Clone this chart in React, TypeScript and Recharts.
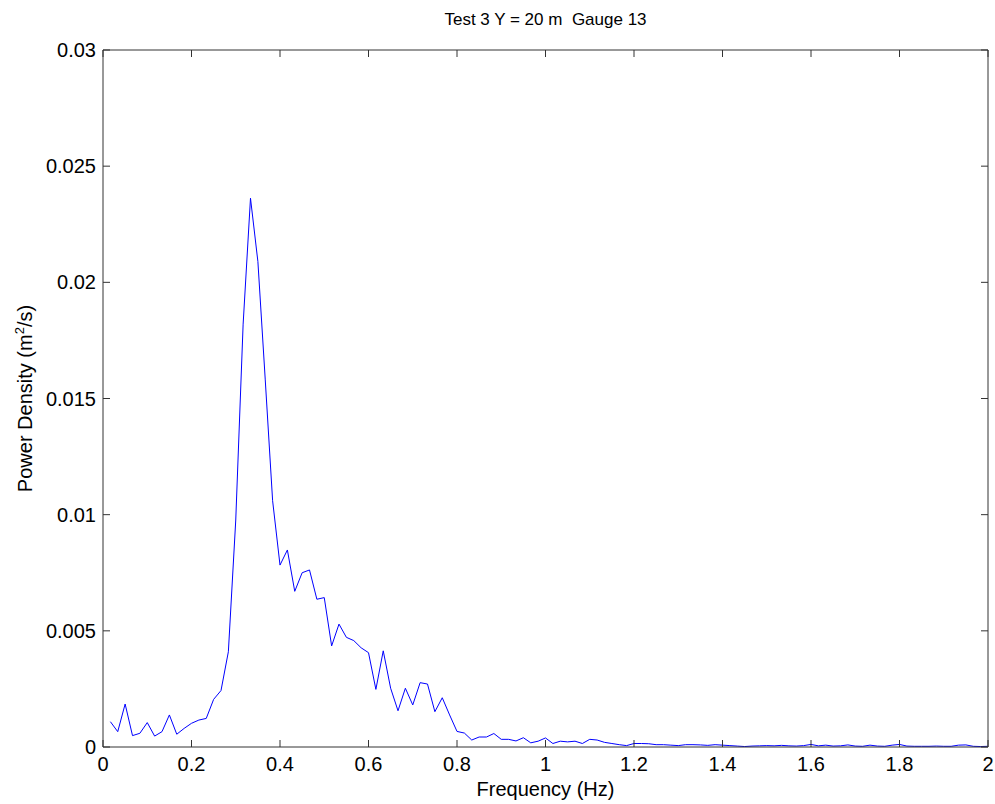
import React from "react"
import { LineChart, Line, XAxis, YAxis, Label } from "recharts"

// frequency bins (Hz)
const frequency = [
  0.0167, 0.0333, 0.05, 0.0667, 0.0833, 0.1, 0.1167, 0.1333, 0.15, 0.1667,
  0.1833, 0.2, 0.2167, 0.2333, 0.25, 0.2667, 0.2833, 0.3, 0.3167, 0.3333,
  0.35, 0.3667, 0.3833, 0.4, 0.4167, 0.4333, 0.45, 0.4667, 0.4833, 0.5,
  0.5167, 0.5333, 0.55, 0.5667, 0.5833, 0.6, 0.6167, 0.6333, 0.65, 0.6667,
  0.6833, 0.7, 0.7167, 0.7333, 0.75, 0.7667, 0.7833, 0.8, 0.8167, 0.8333,
  0.85, 0.8667, 0.8833, 0.9, 0.9167, 0.9333, 0.95, 0.9667, 0.9833, 1.0,
  1.0167, 1.0333, 1.05, 1.0667, 1.0833, 1.1, 1.1167, 1.1333, 1.15, 1.1667,
  1.1833, 1.2, 1.2167, 1.2333, 1.25, 1.2667, 1.2833, 1.3, 1.3167, 1.3333,
  1.35, 1.3667, 1.3833, 1.4, 1.4167, 1.4333, 1.45, 1.4667, 1.4833, 1.5,
  1.5167, 1.5333, 1.55, 1.5667, 1.5833, 1.6, 1.6167, 1.6333, 1.65, 1.6667,
  1.6833, 1.7, 1.7167, 1.7333, 1.75, 1.7667, 1.7833, 1.8, 1.8167, 1.8333,
  1.85, 1.8667, 1.8833, 1.9, 1.9167, 1.9333, 1.95, 1.9667, 1.9833, 2.0,
]

// power density (m^2/s)
const density = [
  0.00109, 0.00066, 0.00185, 0.00049, 0.00059, 0.00105, 0.00047, 0.00066, 0.00138, 0.00055,
  0.0008, 0.00102, 0.00116, 0.00123, 0.00205, 0.00243, 0.0041, 0.00977, 0.0182, 0.02362,
  0.0209, 0.0158, 0.0106, 0.00783, 0.00848, 0.0067, 0.0075, 0.00762, 0.00636, 0.00643,
  0.00435, 0.00529, 0.00472, 0.00458, 0.00427, 0.00406, 0.00248, 0.00414, 0.00253, 0.00156,
  0.00253, 0.00181, 0.00277, 0.00271, 0.00152, 0.00212, 0.00138, 0.00067, 0.0006, 0.0003,
  0.00043, 0.00043, 0.00058, 0.00033, 0.00033, 0.00026, 0.0004, 0.00018, 0.00025, 0.00039,
  0.00015, 0.00025, 0.00022, 0.00025, 0.00015, 0.00033, 0.0003, 0.0002, 0.00015, 0.0001,
  0.00006, 0.00015, 0.00015, 0.00014, 0.0001, 0.0001, 0.00008, 0.00006, 0.0001, 0.0001,
  0.00009, 0.00007, 0.0001, 0.00008, 0.00006, 0.00004, 0.00002, 0.00004, 0.00005, 0.00006,
  0.00005, 0.00007, 0.00005, 0.00004, 0.00006, 0.00011, 0.00005, 0.00008, 0.00004, 0.00005,
  0.00009, 0.00004, 0.00003, 0.00008, 0.00004, 0.00003, 0.00008, 0.00011, 0.00004, 0.00003,
  0.00003, 0.00003, 0.00004, 0.00003, 0.00003, 0.00008, 0.00009, 0.00003, 0.00002, 0.00003,
]

const xTicks = [0, 0.2, 0.4, 0.6, 0.8, 1, 1.2, 1.4, 1.6, 1.8, 2]
const yTicks = [0, 0.005, 0.01, 0.015, 0.02, 0.025, 0.03]

const data = frequency.map((f, i) => ({ f, p: density[i] }))

const FONT = "'Liberation Sans', Arial, sans-serif"
const axisColor = "#333"
const FS = 20
const TICK = 7

// MATLAB style: ticks point into the plot box
const BottomTick = ({ x, y, payload }: any) => (
  <g>
    <line x1={x} y1={y} x2={x} y2={y - TICK} stroke={axisColor} />
    <text x={x} y={y + 24} textAnchor="middle" fontSize={FS} fontFamily={FONT} fill="#000">
      {payload.value}
    </text>
  </g>
)
const LeftTick = ({ x, y, payload }: any) => (
  <g>
    <line x1={x} y1={y} x2={x + TICK} y2={y} stroke={axisColor} />
    <text x={x - 7} y={y + 7} textAnchor="end" fontSize={FS} fontFamily={FONT} fill="#000">
      {payload.value}
    </text>
  </g>
)
const TopTick = ({ x, y }: any) => (
  <line x1={x} y1={y} x2={x} y2={y + TICK} stroke={axisColor} />
)
const RightTick = ({ x, y }: any) => (
  <line x1={x} y1={y} x2={x - TICK} y2={y} stroke={axisColor} />
)

export default function App() {
  return (
    <div style={{ position: "absolute", left: 0, top: 0, width: 995, height: 804, background: "#fff" }}>
      <LineChart
        width={995}
        height={804}
        data={data}
        margin={{ top: 49, right: 6, bottom: 27, left: 43 }}
      >
        <XAxis
          dataKey="f"
          type="number"
          domain={[0, 2]}
          ticks={xTicks}
          allowDataOverflow
          height={30}
          stroke={axisColor}
          tickLine={false}
          tickSize={0}
          tickMargin={0}
          tick={<BottomTick />}
        >
          <Label
            content={({ viewBox }: any) => (
              <text
                x={viewBox.x + viewBox.width / 2}
                y={viewBox.y + 49}
                textAnchor="middle"
                fontSize={FS}
                fontFamily={FONT}
              >
                Frequency (Hz)
              </text>
            )}
          />
        </XAxis>
        <XAxis
          xAxisId="top"
          dataKey="f"
          orientation="top"
          type="number"
          domain={[0, 2]}
          ticks={xTicks}
          allowDataOverflow
          height={1}
          stroke={axisColor}
          tickLine={false}
          tickSize={0}
          tickMargin={0}
          tick={<TopTick />}
        >
          <Label
            content={({ viewBox }: any) => (
              <text
                x={viewBox.x + viewBox.width / 2}
                y={25}
                textAnchor="middle"
                fontSize={17}
                fontFamily={FONT}
              >
                Test 3 Y = 20 m{"\u00a0\u00a0"}Gauge 13
              </text>
            )}
          />
        </XAxis>
        <YAxis
          type="number"
          domain={[0, 0.03]}
          ticks={yTicks}
          allowDataOverflow
          width={60}
          stroke={axisColor}
          tickLine={false}
          tickSize={0}
          tickMargin={0}
          tick={<LeftTick />}
        >
          <Label
            content={({ viewBox }: any) => {
              const cx = 32
              const cy = viewBox.y + viewBox.height / 2
              return (
                <text
                  x={cx}
                  y={cy}
                  transform={`rotate(-90, ${cx}, ${cy})`}
                  textAnchor="middle"
                  fontSize={FS}
                  fontFamily={FONT}
                >
                  Power Density (m
                  <tspan dy={-8} fontSize={13}>2</tspan>
                  <tspan dy={8}>/s)</tspan>
                </text>
              )
            }}
          />
        </YAxis>
        <YAxis
          yAxisId="right"
          orientation="right"
          type="number"
          domain={[0, 0.03]}
          ticks={yTicks}
          allowDataOverflow
          width={1}
          stroke={axisColor}
          tickLine={false}
          tickSize={0}
          tickMargin={0}
          tick={<RightTick />}
        />
        {/* invisible series so the top/right frame axes get drawn */}
        <Line
          xAxisId="top"
          yAxisId="right"
          dataKey="p"
          stroke="none"
          dot={false}
          activeDot={false}
          isAnimationActive={false}
        />
        <Line
          type="linear"
          dataKey="p"
          stroke="#0000ff"
          strokeWidth={1}
          dot={false}
          activeDot={false}
          isAnimationActive={false}
        />
      </LineChart>
    </div>
  )
}
